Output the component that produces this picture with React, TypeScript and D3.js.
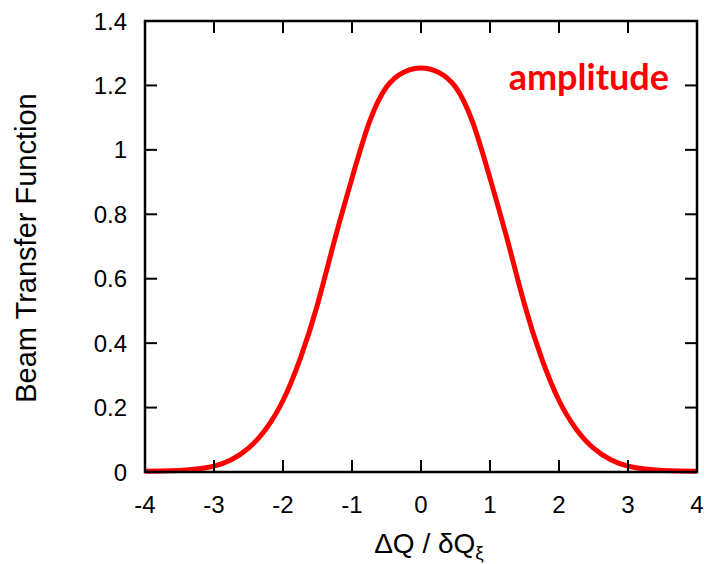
import React from "react";
import * as d3 from "d3";

// detuning in units of the tune spread
const dq = [
  -4, -3.75, -3.5, -3.25, -3, -2.75, -2.5, -2.25, -2, -1.75, -1.5, -1.25, -1, -0.75, -0.5, -0.25,
  0, 0.25, 0.5, 0.75, 1, 1.25, 1.5, 1.75, 2, 2.25, 2.5, 2.75, 3, 3.25, 3.5, 3.75, 4,
];
// BTF amplitude
const amplitude = [
  0.002, 0.003, 0.005, 0.009, 0.018, 0.038, 0.074, 0.133, 0.222, 0.352, 0.52, 0.722, 0.912, 1.085, 1.195, 1.241,
  1.254, 1.241, 1.195, 1.085, 0.912, 0.722, 0.52, 0.352, 0.222, 0.133, 0.074, 0.038, 0.018, 0.009, 0.005, 0.003, 0.002,
];
const xTicks = [-4, -3, -2, -1, 0, 1, 2, 3, 4];
const yTicks = [0, 0.2, 0.4, 0.6, 0.8, 1, 1.2, 1.4];

const width = 704;
const height = 564;
const margin = { top: 21, right: 7, bottom: 92, left: 145 };
const tickLen = 12;
const font = "'Liberation Sans', Arial, Helvetica, sans-serif";

export default function App() {
  const x = d3.scaleLinear().domain([-4, 4]).range([margin.left, width - margin.right]);
  const y = d3.scaleLinear().domain([0, 1.4]).range([height - margin.bottom, margin.top]);

  const line = d3
    .line<number>()
    .x((d, i) => x(dq[i]))
    .y((d) => y(d))
    .curve(d3.curveNatural);

  const x0 = x(-4);
  const x1 = x(4);
  const y0 = y(0);
  const y1 = y(1.4);

  return (
    <svg
      width={width}
      height={height}
      style={{ position: "absolute", left: 0, top: 0, background: "#fff" }}
    >
      <path d={line(amplitude) || ""} fill="none" stroke="#ff0000" strokeWidth={5} strokeLinejoin="round" />

      {/* frame */}
      <rect x={x0} y={y1} width={x1 - x0} height={y0 - y1} fill="none" stroke="#000" strokeWidth={2.5} />

      {/* x ticks, bottom and top, pointing inward */}
      {xTicks.map((t) => (
        <g key={"x" + t}>
          {t > -4 && t < 4 && (
            <>
              <line x1={x(t)} x2={x(t)} y1={y0} y2={y0 - tickLen} stroke="#000" strokeWidth={2} />
              <line x1={x(t)} x2={x(t)} y1={y1} y2={y1 + tickLen} stroke="#000" strokeWidth={2} />
            </>
          )}
          <text x={x(t)} y={513} textAnchor="middle" fontFamily={font} fontSize={24} fill="#000">
            {t}
          </text>
        </g>
      ))}

      {/* y ticks, left and right */}
      {yTicks.map((t) => (
        <g key={"y" + t}>
          {t > 0 && t < 1.4 && (
            <>
              <line x1={x0} x2={x0 + tickLen} y1={y(t)} y2={y(t)} stroke="#000" strokeWidth={2} />
              <line x1={x1} x2={x1 - tickLen} y1={y(t)} y2={y(t)} stroke="#000" strokeWidth={2} />
            </>
          )}
          <text x={127} y={y(t)} dy="0.36em" textAnchor="end" fontFamily={font} fontSize={24} fill="#000">
            {t}
          </text>
        </g>
      ))}

      {/* axis titles */}
      <text x={429} y={553} textAnchor="middle" fontFamily={font} fontSize={28} fill="#000">
        ΔQ / δQ
        <tspan fontSize={19} dy={6}>ξ</tspan>
      </text>
      <text
        transform={`translate(36, ${248})rotate(-90)`}
        textAnchor="middle"
        fontFamily={font}
        fontSize={29}
        fill="#000"
      >
        Beam Transfer Function
      </text>

      <text x={669} y={90} textAnchor="end" fontFamily="Lato, 'Open Sans', sans-serif" fontWeight="bold" fontSize={36} fill="#ff0000">
        amplitude
      </text>
    </svg>
  );
}
